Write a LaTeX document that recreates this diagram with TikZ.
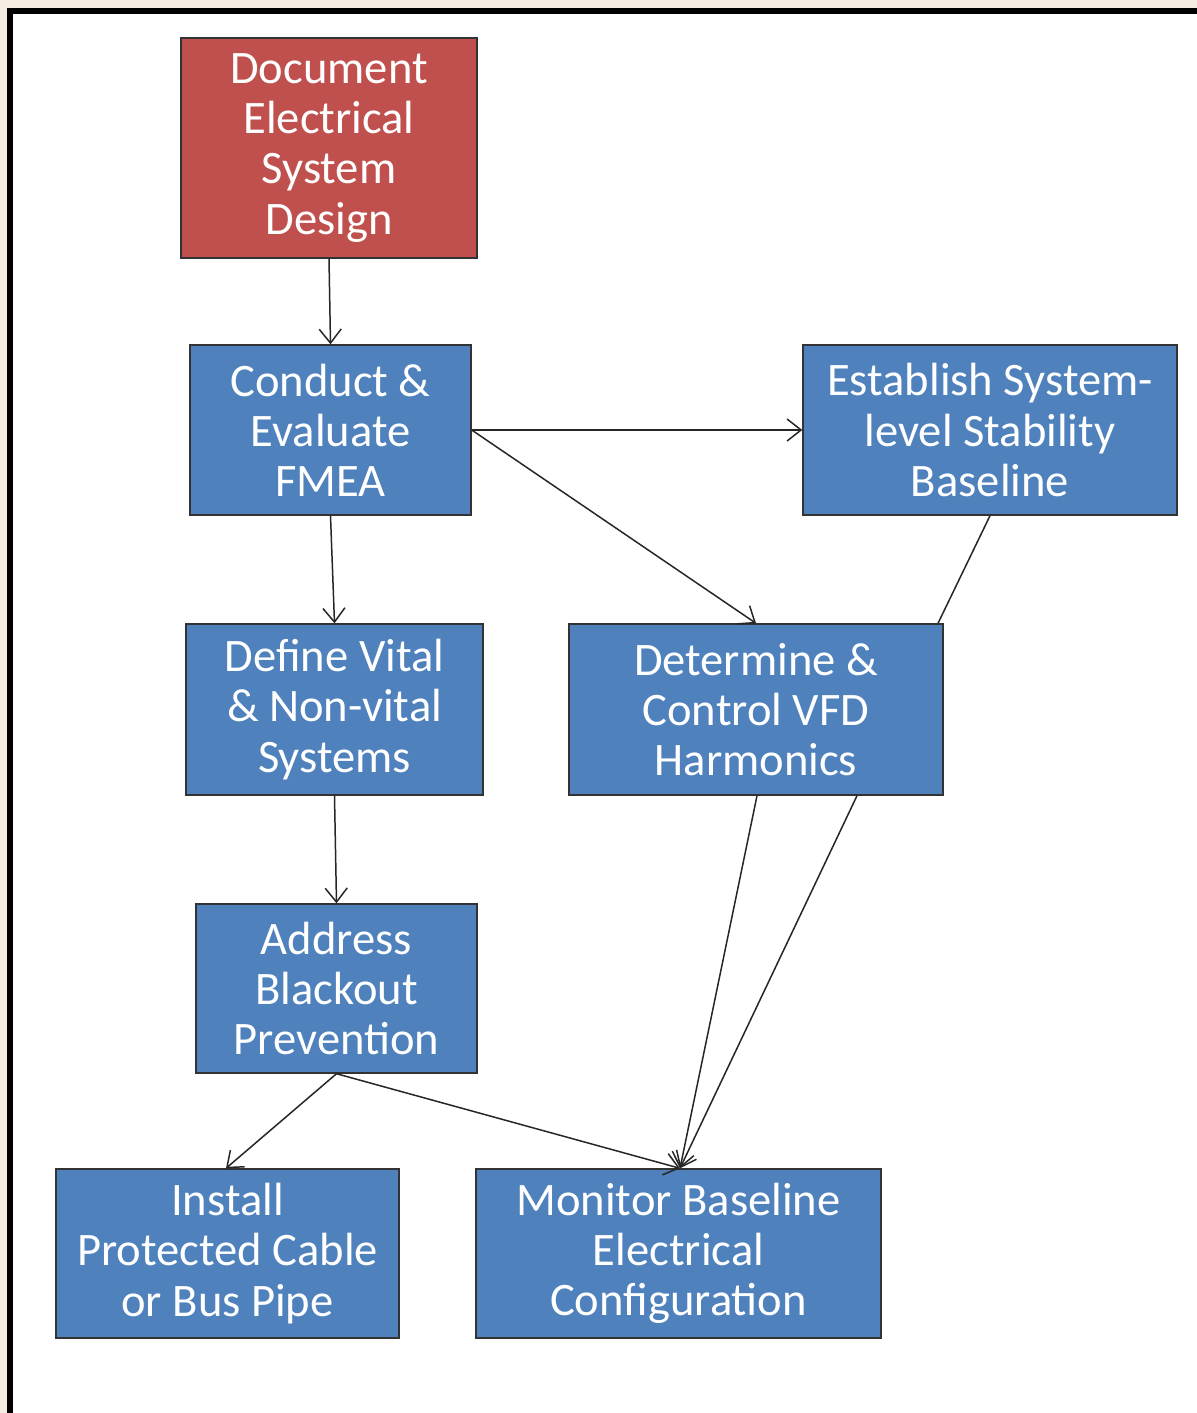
\documentclass[tikz,border=0pt]{standalone}
\usepackage{fontspec}
\setmainfont{Carlito}
\usetikzlibrary{arrows.meta,positioning}
\definecolor{stepblue}{HTML}{4F81BD}
\definecolor{stepred}{HTML}{C0504D}
\definecolor{pagebeige}{HTML}{F5EDE2}

\begin{document}
\begin{tikzpicture}[
    box/.style={draw=black!80, line width=0.8pt, fill=stepblue, text=white, align=center,
                font=\fontsize{26.5}{28.5}\selectfont, inner sep=0pt},
    redbox/.style={box, fill=stepred},
    arr/.style={-{Straight Barb[length=2.8mm,width=4.4mm]}, line width=0.85pt, black!85},
    link/.style={line width=0.85pt, black!85}
]
% page and frame
\useasboundingbox (0,0) rectangle (23.94,-28.26);
\fill[pagebeige] (0,0) rectangle (23.94,-28.26);
\fill[white] (0.2,-0.22) rectangle (23.94,-28.26);
\draw[line width=3pt] (0.2,-28.26) -- (0.2,-0.22) -- (23.94,-0.22);

\node[redbox, minimum width=5.92cm, minimum height=4.4cm] (doc) at (6.58,-2.96)
    {Document\\Electrical\\System\\Design};
\node[box, minimum width=5.62cm, minimum height=3.4cm] (fmea) at (6.61,-8.6)
    {Conduct \&\\Evaluate\\FMEA};
\node[box, minimum width=7.48cm, minimum height=3.4cm] (stab) at (19.8,-8.6)
    {Establish System-\\level Stability\\Baseline};
\node[box, minimum width=5.94cm, minimum height=3.42cm] (vital) at (6.69,-14.19)
    {Define Vital\\\& Non-vital\\Systems};
\node[box, minimum width=7.48cm, minimum height=3.42cm] (vfd) at (15.12,-14.19)
    {Determine \&\\Control VFD\\Harmonics};
\node[box, minimum width=5.62cm, minimum height=3.38cm] (blackout) at (6.73,-19.77)
    {Address\\Blackout\\Prevention};
\node[box, minimum width=6.86cm, minimum height=3.38cm] (cable) at (4.55,-25.07)
    {Install\\Protected Cable\\or Bus Pipe};
\node[box, minimum width=8.1cm, minimum height=3.38cm] (monitor) at (13.57,-25.07)
    {Monitor Baseline\\Electrical\\Configuration};

\draw[arr] (doc.south) -- (fmea.north);
\draw[arr] (fmea.south) -- (vital.north);
\draw[arr] (fmea.east) -- (stab.west);
\draw[arr] (fmea.east) -- (vfd.north);
\draw[link] (stab.south) -- ([xshift=3.64cm]vfd.north);
\draw[arr] (vital.south) -- (blackout.north);
\draw[arr] (blackout.south) -- ([xshift=-0.03cm]cable.north);
\draw[arr] (blackout.south) -- ([xshift=0.03cm]monitor.north);
\draw[arr] ([xshift=0.02cm]vfd.south) -- ([xshift=0.03cm]monitor.north);
\draw[arr] ([xshift=2.02cm]vfd.south) -- ([xshift=0.03cm]monitor.north);
\end{tikzpicture}
\end{document}
